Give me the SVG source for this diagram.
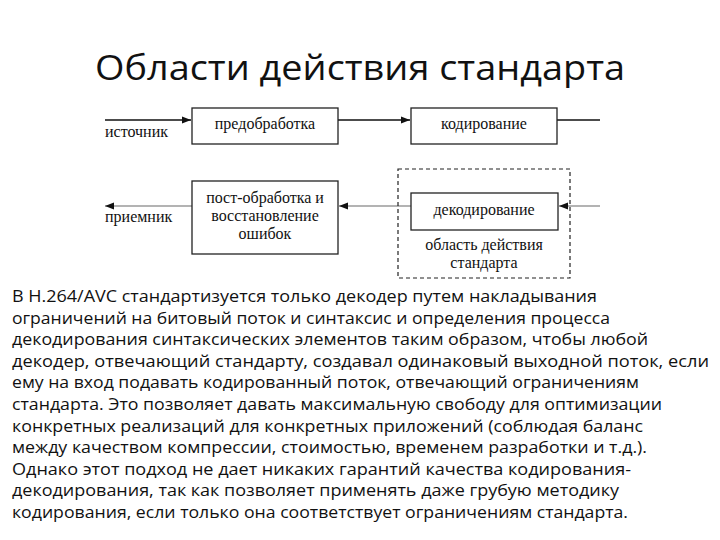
<svg xmlns="http://www.w3.org/2000/svg" width="720" height="540" viewBox="0 0 720 540">
<style>
.title{font-family:"Open Sans","Liberation Sans",sans-serif;font-size:34px;fill:#111}
.body{font-family:"Open Sans","Liberation Sans",sans-serif;font-size:16px;fill:#111}
.dt{font-family:"Liberation Serif","DejaVu Serif",serif;font-size:16px;fill:#111}
.box{fill:#fff;stroke:#222;stroke-width:1.3}
.blk{stroke:#111;stroke-width:1.3;fill:none}
.gry{stroke:#9a9a9a;stroke-width:1.5;fill:none}
</style>
<defs>
<marker id="ah" viewBox="0 0 10 10" refX="10" refY="5" markerWidth="9" markerHeight="9" markerUnits="userSpaceOnUse" orient="auto">
<path d="M0,1 L10,5 L0,9 Z" fill="#111"/>
</marker>
</defs>
<rect width="720" height="540" fill="#fff"/>
<text class="title" x="360" y="80" text-anchor="middle" textLength="530" lengthAdjust="spacingAndGlyphs">Области действия стандарта</text>

<g id="connectors">
<line class="blk" x1="105" y1="120" x2="191" y2="120" marker-end="url(#ah)"/>
<line class="blk" x1="338" y1="120" x2="410" y2="120" marker-end="url(#ah)"/>
<line class="blk" x1="557" y1="120" x2="600" y2="120"/>
<line class="gry" x1="600" y1="206" x2="559" y2="206" marker-end="url(#ah)"/>
<line class="gry" x1="411" y1="206" x2="339" y2="206" marker-end="url(#ah)"/>
<line class="gry" x1="192" y1="206" x2="105" y2="206" marker-end="url(#ah)"/>
</g>

<g id="source"><text class="dt" x="105" y="137">источник</text></g>
<g id="receiver"><text class="dt" x="105" y="222">приемник</text></g>

<g id="preprocessing">
<rect class="box" x="192" y="108" width="146" height="36"/>
<text class="dt" x="265" y="129" text-anchor="middle">предобработка</text>
</g>
<g id="coding">
<rect class="box" x="411" y="108" width="146" height="36"/>
<text class="dt" x="484" y="129" text-anchor="middle">кодирование</text>
</g>
<g id="scope">
<rect x="398" y="169" width="172" height="109" fill="none" stroke="#222" stroke-width="1.2" stroke-dasharray="4,3"/>
<text class="dt" x="484" y="250" text-anchor="middle">область действия</text>
<text class="dt" x="484" y="268" text-anchor="middle">стандарта</text>
</g>
<g id="decoding">
<rect class="box" x="411" y="193" width="147" height="37"/>
<text class="dt" x="484" y="215" text-anchor="middle">декодирование</text>
</g>
<g id="postprocessing">
<rect class="box" x="192" y="181" width="146" height="73"/>
<text class="dt" x="265" y="203" text-anchor="middle">пост-обработка и</text>
<text class="dt" x="265" y="221" text-anchor="middle">восстановление</text>
<text class="dt" x="265" y="239" text-anchor="middle">ошибок</text>
</g>

<g id="text">
<text class="body" x="12" y="302" textLength="585" lengthAdjust="spacingAndGlyphs">В H.264/AVC стандартизуется только декодер путем накладывания</text>
<text class="body" x="12" y="323.6" textLength="598" lengthAdjust="spacingAndGlyphs">ограничений на битовый поток и синтаксис и определения процесса</text>
<text class="body" x="12" y="345.2" textLength="636" lengthAdjust="spacingAndGlyphs">декодирования синтаксических элементов таким образом, чтобы любой</text>
<text class="body" x="12" y="366.8" textLength="697" lengthAdjust="spacingAndGlyphs">декодер, отвечающий стандарту, создавал одинаковый выходной поток, если</text>
<text class="body" x="12" y="388.4" textLength="627" lengthAdjust="spacingAndGlyphs">ему на вход подавать кодированный поток, отвечающий ограничениям</text>
<text class="body" x="12" y="410" textLength="650" lengthAdjust="spacingAndGlyphs">стандарта. Это позволяет давать максимальную свободу для оптимизации</text>
<text class="body" x="12" y="431.6" textLength="631" lengthAdjust="spacingAndGlyphs">конкретных реализаций для конкретных приложений (соблюдая баланс</text>
<text class="body" x="12" y="453.2" textLength="635" lengthAdjust="spacingAndGlyphs">между качеством компрессии, стоимостью, временем разработки и т.д.).</text>
<text class="body" x="12" y="474.8" textLength="619" lengthAdjust="spacingAndGlyphs">Однако этот подход не дает никаких гарантий качества кодирования-</text>
<text class="body" x="12" y="496.4" textLength="607" lengthAdjust="spacingAndGlyphs">декодирования, так как позволяет применять даже грубую методику</text>
<text class="body" x="12" y="518" textLength="616" lengthAdjust="spacingAndGlyphs">кодирования, если только она соответствует ограничениям стандарта.</text>
</g>
</svg>
